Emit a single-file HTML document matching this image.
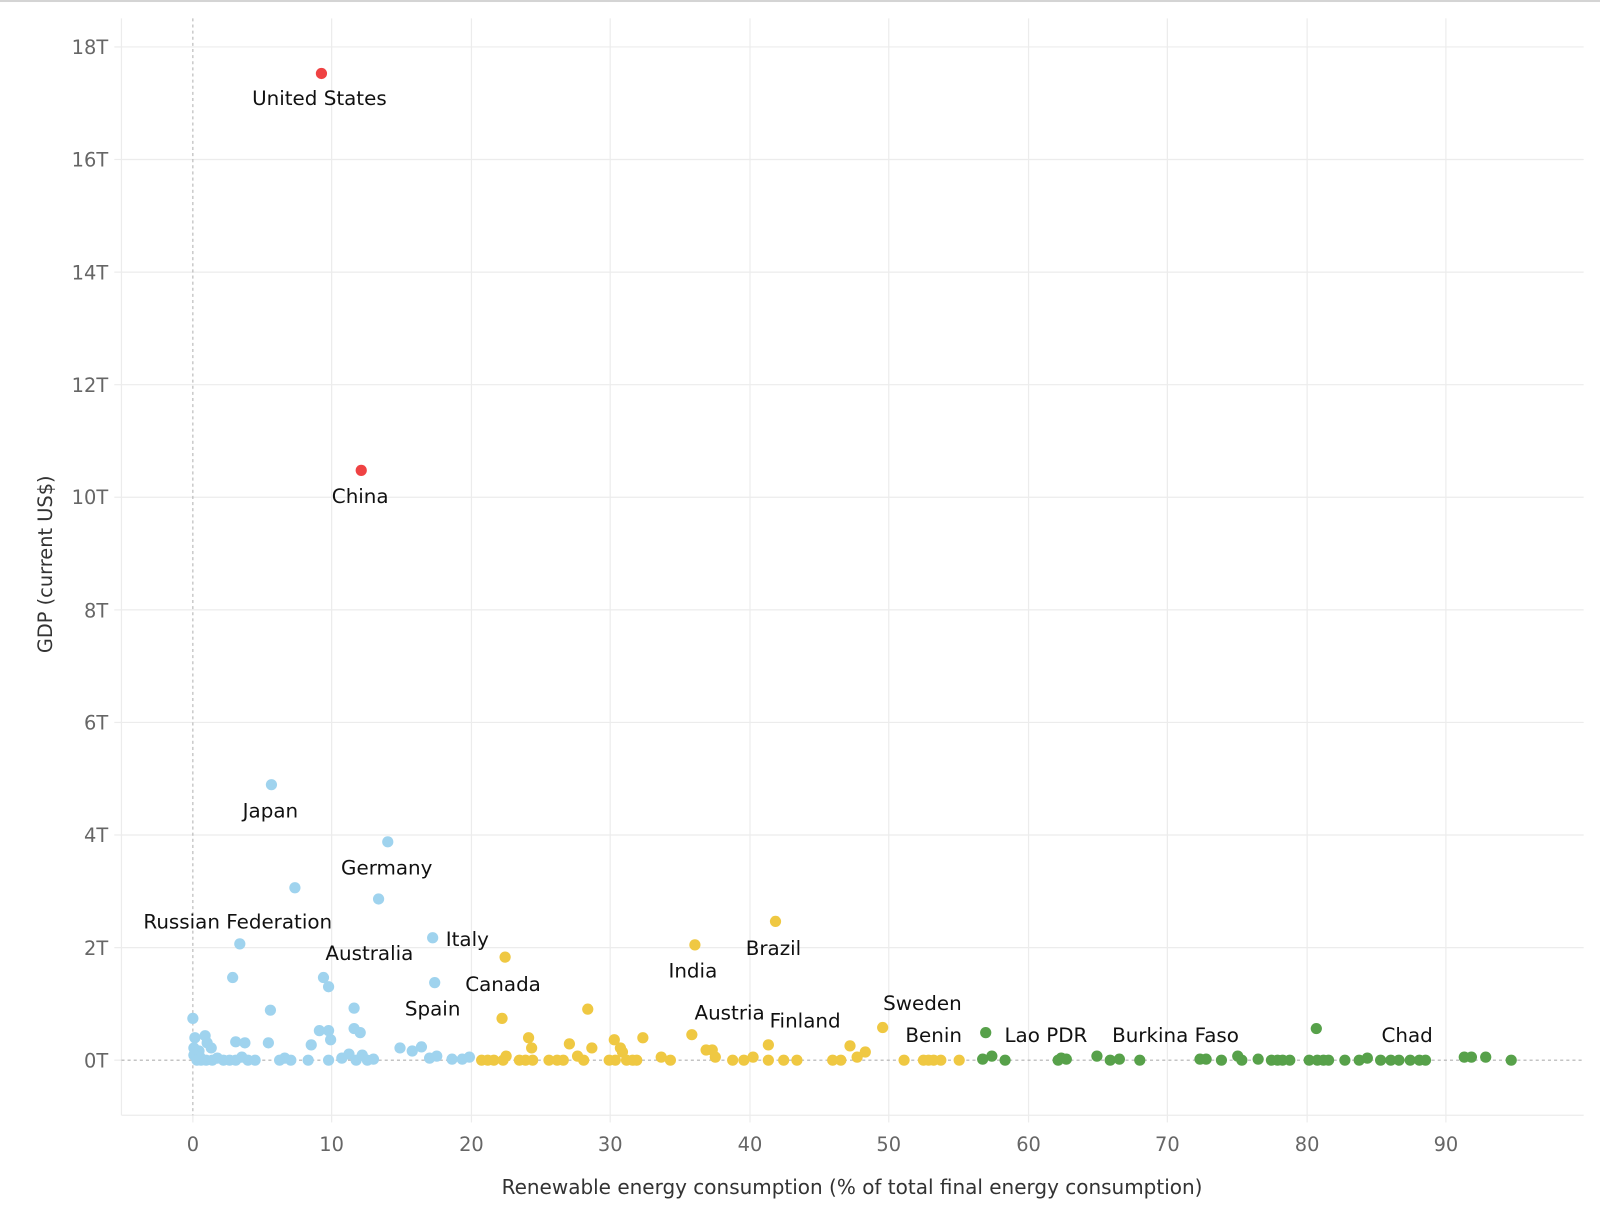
<!DOCTYPE html>
<html><head><meta charset="utf-8"><style>
html,body{margin:0;padding:0;background:#fff;width:1600px;height:1221px;overflow:hidden}
svg{display:block}
text{font-family:"DejaVu Sans","Liberation Sans",sans-serif}
</style></head><body>
<svg width="1600" height="1221" viewBox="0 0 1568 1196.6" xmlns="http://www.w3.org/2000/svg">
<rect x="0" y="0" width="1568" height="2" fill="#d4d4d4"/>
<g stroke="#ececec" stroke-width="1.2">
<line x1="119" y1="18" x2="119" y2="1093"/>
<line x1="325" y1="18" x2="325" y2="1093"/><line x1="462" y1="18" x2="462" y2="1093"/>
<line x1="598" y1="18" x2="598" y2="1093"/><line x1="735" y1="18" x2="735" y2="1093"/>
<line x1="871" y1="18" x2="871" y2="1093"/><line x1="1008" y1="18" x2="1008" y2="1093"/>
<line x1="1144" y1="18" x2="1144" y2="1093"/><line x1="1281" y1="18" x2="1281" y2="1093"/>
<line x1="1417" y1="18" x2="1417" y2="1093"/>
<line x1="119" y1="46" x2="1552" y2="46"/><line x1="119" y1="156.3" x2="1552" y2="156.3"/>
<line x1="119" y1="266.7" x2="1552" y2="266.7"/><line x1="119" y1="377" x2="1552" y2="377"/>
<line x1="119" y1="487.3" x2="1552" y2="487.3"/><line x1="119" y1="597.7" x2="1552" y2="597.7"/>
<line x1="119" y1="708" x2="1552" y2="708"/><line x1="119" y1="818.3" x2="1552" y2="818.3"/>
<line x1="119" y1="928.7" x2="1552" y2="928.7"/>
<line x1="119" y1="1093" x2="1552" y2="1093"/>
<line x1="112" y1="46" x2="119" y2="46"/><line x1="112" y1="156.3" x2="119" y2="156.3"/>
<line x1="112" y1="266.7" x2="119" y2="266.7"/><line x1="112" y1="377" x2="119" y2="377"/>
<line x1="112" y1="487.3" x2="119" y2="487.3"/><line x1="112" y1="597.7" x2="119" y2="597.7"/>
<line x1="112" y1="708" x2="119" y2="708"/><line x1="112" y1="818.3" x2="119" y2="818.3"/>
<line x1="112" y1="928.7" x2="119" y2="928.7"/><line x1="112" y1="1039" x2="119" y2="1039"/>
<line x1="189" y1="1093" x2="189" y2="1100"/><line x1="325" y1="1093" x2="325" y2="1100"/>
<line x1="462" y1="1093" x2="462" y2="1100"/><line x1="598" y1="1093" x2="598" y2="1100"/>
<line x1="735" y1="1093" x2="735" y2="1100"/><line x1="871" y1="1093" x2="871" y2="1100"/>
<line x1="1008" y1="1093" x2="1008" y2="1100"/><line x1="1144" y1="1093" x2="1144" y2="1100"/>
<line x1="1281" y1="1093" x2="1281" y2="1100"/><line x1="1417" y1="1093" x2="1417" y2="1100"/>
</g>
<g stroke="#b0b0b0" stroke-width="1" stroke-dasharray="3,3">
<line x1="189" y1="18" x2="189" y2="1093"/>
<line x1="119" y1="1039" x2="1552" y2="1039"/>
</g>
<g font-size="19" fill="#666" text-anchor="end">
<text x="106" y="53">18T</text><text x="106" y="163">16T</text><text x="106" y="274">14T</text>
<text x="106" y="384">12T</text><text x="106" y="494">10T</text><text x="106" y="605">8T</text>
<text x="106" y="715">6T</text><text x="106" y="825">4T</text><text x="106" y="936">2T</text>
<text x="106" y="1046">0T</text>
</g>
<g font-size="19" fill="#666" text-anchor="middle">
<text x="189" y="1128">0</text><text x="325" y="1128">10</text><text x="462" y="1128">20</text>
<text x="598" y="1128">30</text><text x="735" y="1128">40</text><text x="871" y="1128">50</text>
<text x="1008" y="1128">60</text><text x="1144" y="1128">70</text><text x="1281" y="1128">80</text>
<text x="1417" y="1128">90</text>
</g>
<text x="835" y="1170" font-size="19.6" fill="#333" text-anchor="middle">Renewable energy consumption (% of total final energy consumption)</text>
<text transform="translate(51,553) rotate(-90)" font-size="19" fill="#333" text-anchor="middle">GDP (current US$)</text>

<g fill="#9fd3ee">
<circle cx="266" cy="769" r="5.5"/><circle cx="380" cy="825" r="5.5"/><circle cx="289" cy="870" r="5.5"/>
<circle cx="371" cy="881" r="5.5"/><circle cx="235" cy="925" r="5.5"/><circle cx="424" cy="919" r="5.5"/>
<circle cx="228" cy="958" r="5.5"/><circle cx="317" cy="958" r="5.5"/><circle cx="322" cy="967" r="5.5"/>
<circle cx="426" cy="963" r="5.5"/><circle cx="347" cy="988" r="5.5"/><circle cx="265" cy="990" r="5.5"/>
<circle cx="189" cy="998" r="5.5"/><circle cx="313" cy="1010" r="5.5"/><circle cx="322" cy="1010" r="5.5"/>
<circle cx="353" cy="1012" r="5.5"/><circle cx="347" cy="1008" r="5.5"/><circle cx="263" cy="1022" r="5.5"/>
<circle cx="240" cy="1022" r="5.5"/><circle cx="231" cy="1021" r="5.5"/><circle cx="305" cy="1024" r="5.5"/>
<circle cx="324" cy="1019" r="5.5"/><circle cx="392" cy="1027" r="5.5"/><circle cx="404" cy="1030" r="5.5"/>
<circle cx="413" cy="1026" r="5.5"/><circle cx="428" cy="1035" r="5.5"/><circle cx="421" cy="1037" r="5.5"/>
<circle cx="443" cy="1038" r="5.5"/><circle cx="453" cy="1038" r="5.5"/><circle cx="460" cy="1036" r="5.5"/>
<circle cx="191" cy="1017" r="5.5"/><circle cx="201" cy="1015" r="5.5"/><circle cx="207" cy="1027" r="5.5"/>
<circle cx="190" cy="1027" r="5.5"/><circle cx="195" cy="1030" r="5.5"/><circle cx="203" cy="1022" r="5.5"/>
<circle cx="190" cy="1034" r="5.5"/><circle cx="196" cy="1036" r="5.5"/><circle cx="202" cy="1039" r="5.5"/>
<circle cx="208" cy="1039" r="5.5"/><circle cx="213" cy="1037" r="5.5"/><circle cx="219" cy="1039" r="5.5"/>
<circle cx="225" cy="1039" r="5.5"/><circle cx="231" cy="1039" r="5.5"/><circle cx="237" cy="1036" r="5.5"/>
<circle cx="243" cy="1039" r="5.5"/><circle cx="250" cy="1039" r="5.5"/><circle cx="279" cy="1037" r="5.5"/>
<circle cx="285" cy="1039" r="5.5"/><circle cx="302" cy="1039" r="5.5"/><circle cx="322" cy="1039" r="5.5"/>
<circle cx="335" cy="1037" r="5.5"/><circle cx="342" cy="1033" r="5.5"/><circle cx="349" cy="1039" r="5.5"/>
<circle cx="355" cy="1034" r="5.5"/><circle cx="360" cy="1039" r="5.5"/><circle cx="366" cy="1038" r="5.5"/>
<circle cx="197" cy="1039" r="5.5"/><circle cx="193" cy="1039" r="5.5"/><circle cx="274" cy="1039" r="5.5"/>
</g>
<g fill="#ef4243">
<circle cx="315" cy="72" r="5.5"/><circle cx="354" cy="461" r="5.5"/>
</g>
<g fill="#efc842">
<circle cx="760" cy="903" r="5.5"/><circle cx="681" cy="926" r="5.5"/><circle cx="495" cy="938" r="5.5"/>
<circle cx="492" cy="998" r="5.5"/><circle cx="576" cy="989" r="5.5"/><circle cx="865" cy="1007" r="5.5"/>
<circle cx="678" cy="1014" r="5.5"/><circle cx="518" cy="1017" r="5.5"/><circle cx="630" cy="1017" r="5.5"/>
<circle cx="602" cy="1019" r="5.5"/><circle cx="753" cy="1024" r="5.5"/><circle cx="833" cy="1025" r="5.5"/>
<circle cx="558" cy="1023" r="5.5"/><circle cx="580" cy="1027" r="5.5"/><circle cx="521" cy="1027" r="5.5"/>
<circle cx="608" cy="1027" r="5.5"/><circle cx="692" cy="1029" r="5.5"/><circle cx="698" cy="1029" r="5.5"/>
<circle cx="848" cy="1031" r="5.5"/><circle cx="610" cy="1031" r="5.5"/><circle cx="701" cy="1036" r="5.5"/>
<circle cx="496" cy="1035" r="5.5"/><circle cx="566" cy="1035" r="5.5"/><circle cx="648" cy="1036" r="5.5"/>
<circle cx="738" cy="1036" r="5.5"/><circle cx="840" cy="1036" r="5.5"/>
<circle cx="472" cy="1039" r="5.5"/><circle cx="478" cy="1039" r="5.5"/><circle cx="484" cy="1039" r="5.5"/>
<circle cx="493" cy="1039" r="5.5"/><circle cx="509" cy="1039" r="5.5"/><circle cx="515" cy="1039" r="5.5"/>
<circle cx="522" cy="1039" r="5.5"/><circle cx="538" cy="1039" r="5.5"/><circle cx="546" cy="1039" r="5.5"/>
<circle cx="552" cy="1039" r="5.5"/><circle cx="572" cy="1039" r="5.5"/><circle cx="597" cy="1039" r="5.5"/>
<circle cx="603" cy="1039" r="5.5"/><circle cx="614" cy="1039" r="5.5"/><circle cx="620" cy="1039" r="5.5"/>
<circle cx="624" cy="1039" r="5.5"/><circle cx="657" cy="1039" r="5.5"/><circle cx="718" cy="1039" r="5.5"/>
<circle cx="729" cy="1039" r="5.5"/><circle cx="753" cy="1039" r="5.5"/><circle cx="768" cy="1039" r="5.5"/>
<circle cx="781" cy="1039" r="5.5"/><circle cx="816" cy="1039" r="5.5"/><circle cx="824" cy="1039" r="5.5"/>
<circle cx="886" cy="1039" r="5.5"/><circle cx="905" cy="1039" r="5.5"/><circle cx="910" cy="1039" r="5.5"/>
<circle cx="915" cy="1039" r="5.5"/><circle cx="922" cy="1039" r="5.5"/><circle cx="940" cy="1039" r="5.5"/>
</g>
<g fill="#57a14a">
<circle cx="966" cy="1012" r="5.5"/><circle cx="1290" cy="1008" r="5.5"/><circle cx="972" cy="1035" r="5.5"/>
<circle cx="1075" cy="1035" r="5.5"/><circle cx="1213" cy="1035" r="5.5"/><circle cx="1040" cy="1037" r="5.5"/>
<circle cx="1435" cy="1036" r="5.5"/><circle cx="1442" cy="1036" r="5.5"/><circle cx="1456" cy="1036" r="5.5"/>
<circle cx="963" cy="1038" r="5.5"/><circle cx="985" cy="1039" r="5.5"/><circle cx="1037" cy="1039" r="5.5"/>
<circle cx="1045" cy="1038" r="5.5"/><circle cx="1088" cy="1039" r="5.5"/><circle cx="1097" cy="1038" r="5.5"/>
<circle cx="1117" cy="1039" r="5.5"/><circle cx="1176" cy="1038" r="5.5"/><circle cx="1182" cy="1038" r="5.5"/>
<circle cx="1197" cy="1039" r="5.5"/><circle cx="1217" cy="1039" r="5.5"/><circle cx="1233" cy="1038" r="5.5"/>
<circle cx="1246" cy="1039" r="5.5"/><circle cx="1252" cy="1039" r="5.5"/><circle cx="1257" cy="1039" r="5.5"/>
<circle cx="1264" cy="1039" r="5.5"/><circle cx="1283" cy="1039" r="5.5"/><circle cx="1291" cy="1039" r="5.5"/>
<circle cx="1297" cy="1039" r="5.5"/><circle cx="1302" cy="1039" r="5.5"/><circle cx="1318" cy="1039" r="5.5"/>
<circle cx="1332" cy="1039" r="5.5"/><circle cx="1340" cy="1037" r="5.5"/><circle cx="1353" cy="1039" r="5.5"/>
<circle cx="1363" cy="1039" r="5.5"/><circle cx="1371" cy="1039" r="5.5"/><circle cx="1382" cy="1039" r="5.5"/>
<circle cx="1391" cy="1039" r="5.5"/><circle cx="1397" cy="1039" r="5.5"/><circle cx="1481" cy="1039" r="5.5"/>
</g>
<g font-size="19.5" fill="#111" text-anchor="middle">
<text x="313" y="103">United States</text><text x="353" y="493">China</text>
<text x="265" y="801">Japan</text><text x="379" y="857">Germany</text>
<text x="233" y="910">Russian Federation</text><text x="458" y="927">Italy</text>
<text x="362" y="941">Australia</text><text x="493" y="971">Canada</text>
<text x="424" y="995">Spain</text><text x="679" y="958">India</text>
<text x="758" y="936">Brazil</text><text x="715" y="999">Austria</text>
<text x="789" y="1007">Finland</text><text x="904" y="990">Sweden</text>
<text x="915" y="1021">Benin</text><text x="1025" y="1021">Lao PDR</text>
<text x="1152" y="1021">Burkina Faso</text><text x="1379" y="1021">Chad</text>
</g>
</svg>
</body></html>
